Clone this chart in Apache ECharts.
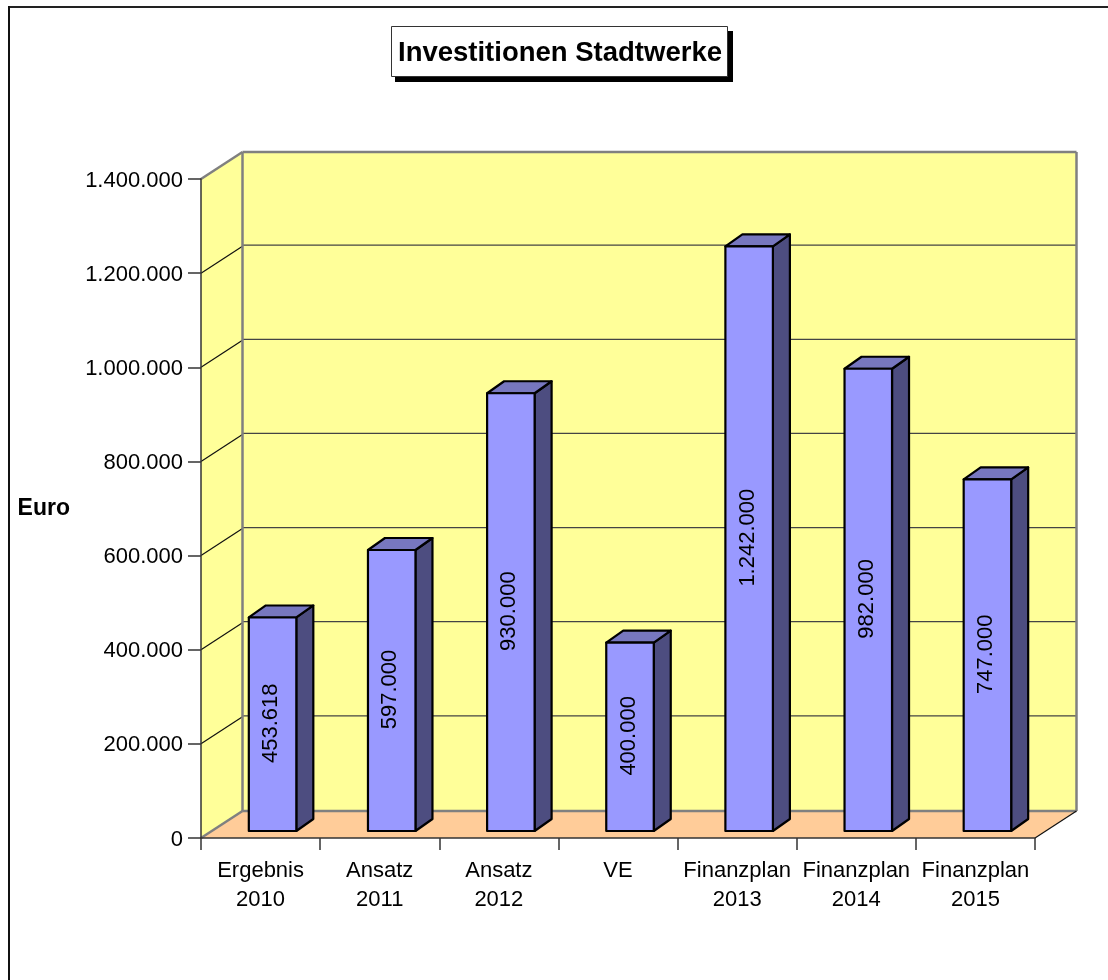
<!DOCTYPE html>
<html>
<head>
<meta charset="utf-8">
<style>html,body{margin:0;padding:0;background:#fff}#c{width:1108px;height:980px}</style>
<script src="https://cdn.jsdelivr.net/npm/echarts@6/dist/echarts.min.js"></script>
</head>
<body>
<div id="c"></div>
<script>
const categories = ['Ergebnis\n2010','Ansatz\n2011','Ansatz\n2012','VE','Finanzplan\n2013','Finanzplan\n2014','Finanzplan\n2015'];
const values = [453618, 597000, 930000, 400000, 1242000, 982000, 747000];
const yTicks = [0, 200000, 400000, 600000, 800000, 1000000, 1200000, 1400000];
const titleText = 'Investitionen Stadtwerke';
const yName = 'Euro';

const FONT = '"Liberation Sans", Arial, sans-serif';
const fmt = v => String(v).replace(/\B(?=(\d{3})+$)/g, '.');
const DX = 41.5, DY = -27;             // depth of the chart box
const BX = 12, BY = -7;                // bar offset inside the depth
const SX = 17, SY = -12;               // bar depth
const BAR_W = 47.5;

function poly(points, fill, stroke, lw) {
  return {type:'polygon', shape:{points}, style:{fill, stroke: stroke || null, lineWidth: lw || 0}};
}
function line(x1,y1,x2,y2,stroke,lw) {
  return {type:'line', shape:{x1,y1,x2,y2}, style:{stroke, lineWidth: lw}};
}
function renderBox(params, api) {
  const c = params.coordSys;
  const x0 = c.x, x1 = c.x + c.width;
  const yB = api.coord([0, yTicks[0]])[1];
  const yT = api.coord([0, yTicks[yTicks.length-1]])[1];
  const kids = [
    poly([[x0+DX,yT+DY],[x1+DX,yT+DY],[x1+DX,yB+DY],[x0+DX,yB+DY]], '#FFFF99'),
    poly([[x0,yB],[x0+DX,yB+DY],[x0+DX,yT+DY],[x0,yT]], '#FFFF99'),
    poly([[x0,yB],[x1,yB],[x1+DX,yB+DY],[x0+DX,yB+DY]], '#FFCC99')
  ];
  yTicks.slice(1,-1).forEach(t => {
    const y = api.coord([0,t])[1];
    kids.push(line(x0,y,x0+DX,y+DY,'#111',1.2));
    kids.push(line(x0+DX,y+DY-1,x1+DX,y+DY-1,'#444',1.2));
  });
  kids.push(line(x0+DX,yT+DY,x1+DX,yT+DY,'#808080',2.5));
  kids.push(line(x1+DX,yT+DY,x1+DX,yB+DY,'#808080',2.5));
  kids.push(line(x0+DX,yT+DY,x0+DX,yB+DY,'#808080',2.5));
  kids.push(line(x0+DX,yB+DY,x1+DX,yB+DY,'#808080',2.5));
  kids.push(line(x0,yT,x0+DX,yT+DY,'#808080',2.5));
  kids.push(line(x0,yB,x0+DX,yB+DY,'#808080',2.5));
  kids.push(line(x1,yB,x1+DX,yB+DY,'#111',1.2));
  return {type:'group', silent:true, children:kids};
}
function renderBar(params, api) {
  const v = api.value(1);
  const p0 = api.coord([api.value(0), 0]);
  const p1 = api.coord([api.value(0), v]);
  const cx = p0[0] + BX, l = cx - BAR_W/2, r = cx + BAR_W/2;
  const b = p0[1] + BY, t = p1[1] + BY;
  const st = {stroke:'#000', lineWidth:2.2, lineJoin:'round'};
  return {type:'group', children:[
    {type:'polygon', shape:{points:[[r,b],[r+SX,b+SY],[r+SX,t+SY],[r,t]]}, style:{fill:'#4D4D80',...st}},
    {type:'polygon', shape:{points:[[l,t],[r,t],[r+SX,t+SY],[l+SX,t+SY]]}, style:{fill:'#7777BF',...st}},
    {type:'rect', shape:{x:l,y:t,width:BAR_W,height:b-t}, style:{fill:'#9999FF',...st}},
    {type:'text', x:cx-1.5, y:(t+b)/2-1, rotation:Math.PI/2,
     style:{text:fmt(v), fill:'#000', font:'22px '+FONT, align:'center', verticalAlign:'middle'}}
  ]};
}

const chart = echarts.init(document.getElementById('c'), null, {renderer:'canvas'});
chart.setOption({
  animation:false,
  backgroundColor:'#fff',
  title:{text:titleText, left:398, top:39, padding:0, z:10,
    textStyle:{fontFamily:FONT, fontSize:27.5, fontWeight:'bold', color:'#000'}},
  graphic:[
    {type:'rect', z:1, shape:{x:395,y:31,width:338,height:51}, style:{fill:'#000'}},
    {type:'rect', z:2, shape:{x:391.5,y:26.5,width:336,height:50}, style:{fill:'#fff',stroke:'#333',lineWidth:1}},
    {type:'line', z:2, shape:{x1:9,y1:7,x2:1108,y2:7}, style:{stroke:'#222',lineWidth:2}},
    {type:'line', z:2, shape:{x1:9,y1:6,x2:9,y2:980}, style:{stroke:'#111',lineWidth:2}}
  ],
  grid:{left:201, right:73, top:179, bottom:142, containLabel:false},
  xAxis:{type:'category', data:categories, z:10,
    axisLine:{lineStyle:{color:'#333',width:1.5}},
    axisTick:{show:true, alignWithLabel:false, length:12, lineStyle:{color:'#333',width:1.5}},
    axisLabel:{interval:0, margin:18, color:'#000', fontFamily:FONT, fontSize:22, lineHeight:29},
    splitLine:{show:false}},
  yAxis:{type:'value', min:0, max:1400000, interval:200000, z:10,
    name:yName, nameLocation:'middle', nameGap:131, nameRotate:0,
    nameTextStyle:{fontFamily:FONT, fontSize:23, fontWeight:'bold', color:'#000'},
    axisLine:{show:true, lineStyle:{color:'#333',width:1.5}},
    axisTick:{show:true, length:13, lineStyle:{color:'#333',width:1.5}},
    axisLabel:{margin:18, color:'#000', formatter:v => '{a|' + fmt(v) + '}',
      rich:{a:{fontFamily:FONT, fontSize:22, color:'#000', padding:[3,0,0,0]}}},
    splitLine:{show:false}},
  series:[
    {type:'custom', name:'box', coordinateSystem:'cartesian2d', z:1, silent:true,
     data:[[0, yTicks[0]]], encode:{x:0,y:1}, renderItem:renderBox},
    {type:'custom', name:'Investitionen', coordinateSystem:'cartesian2d', z:3,
     data:values.map((v,i)=>[i,v]), encode:{x:0,y:1}, renderItem:renderBar}
  ]
});
</script>
</body>
</html>
